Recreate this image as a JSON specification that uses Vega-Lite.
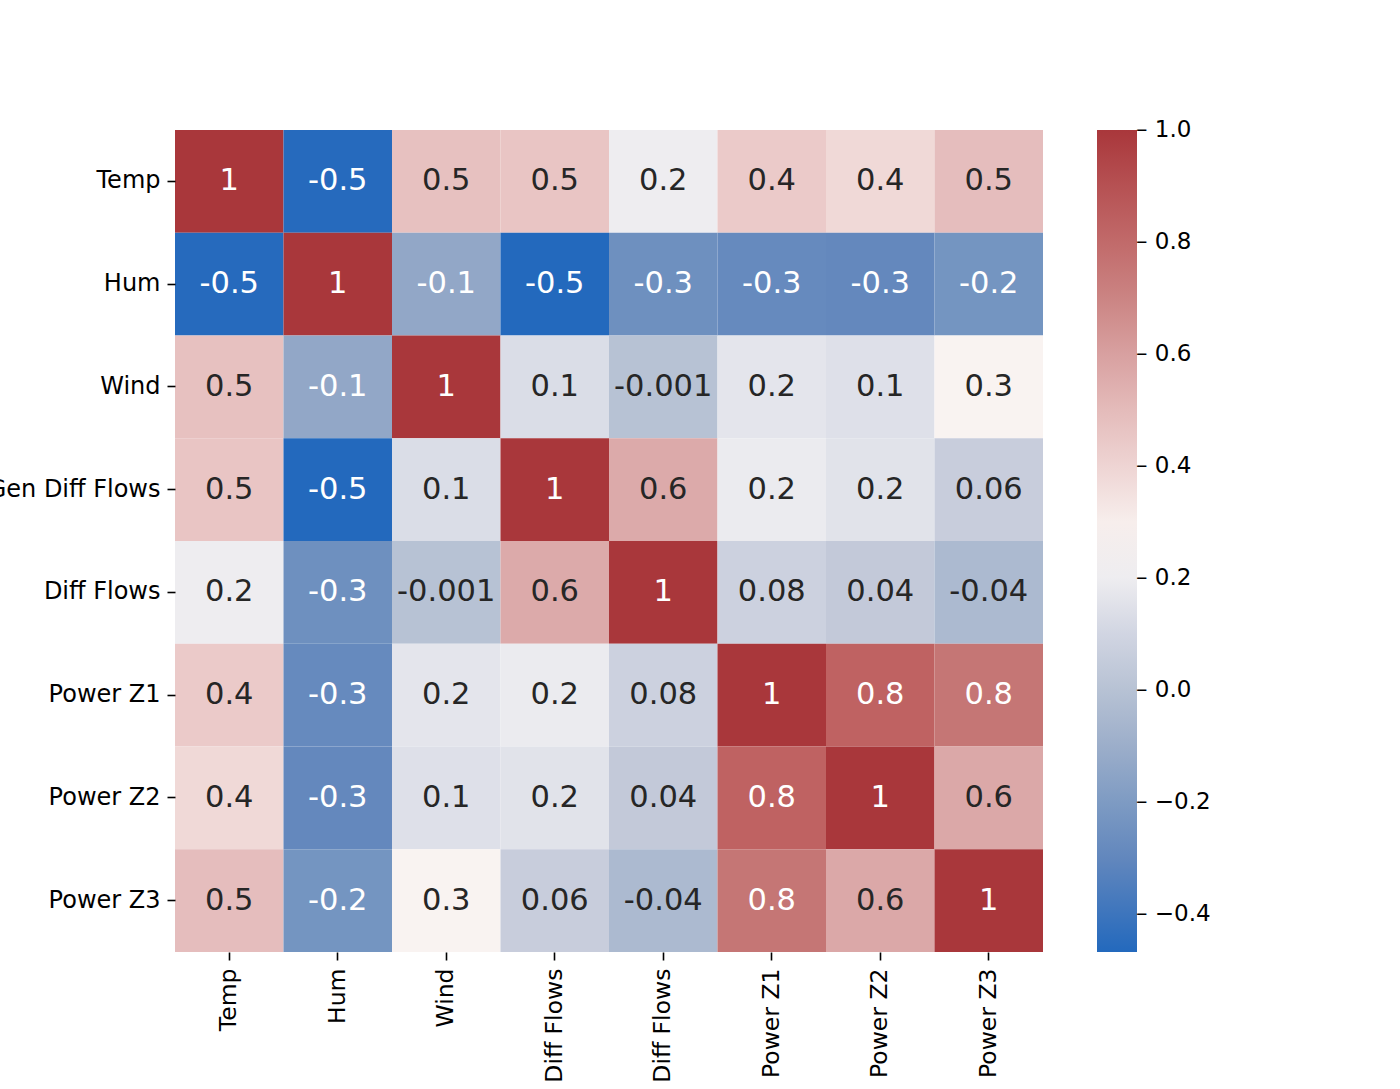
{
  "$schema": "https://vega.github.io/schema/vega-lite/v6.json",
  "autosize": {"type": "none"},
  "padding": {"left": 175, "top": 130, "right": 357, "bottom": 137},
  "width": 868,
  "height": 822,
  "background": "white",
  "config": {"view": {"stroke": null}, "font": "DejaVu Sans"},
  "data": {
    "values": [
      {"row": "Temp", "col": "Temp", "r": 1.0, "label": "1"},
      {"row": "Temp", "col": "Hum", "r": -0.46, "label": "-0.5"},
      {"row": "Temp", "col": "Wind", "r": 0.477, "label": "0.5"},
      {"row": "Temp", "col": "Gen Diff Flows", "r": 0.46, "label": "0.5"},
      {"row": "Temp", "col": "Diff Flows", "r": 0.197, "label": "0.2"},
      {"row": "Temp", "col": "Power Z1", "r": 0.44, "label": "0.4"},
      {"row": "Temp", "col": "Power Z2", "r": 0.382, "label": "0.4"},
      {"row": "Temp", "col": "Power Z3", "r": 0.489, "label": "0.5"},
      {"row": "Hum", "col": "Temp", "r": -0.46, "label": "-0.5"},
      {"row": "Hum", "col": "Hum", "r": 1.0, "label": "1"},
      {"row": "Hum", "col": "Wind", "r": -0.136, "label": "-0.1"},
      {"row": "Hum", "col": "Gen Diff Flows", "r": -0.468, "label": "-0.5"},
      {"row": "Hum", "col": "Diff Flows", "r": -0.257, "label": "-0.3"},
      {"row": "Hum", "col": "Power Z1", "r": -0.287, "label": "-0.3"},
      {"row": "Hum", "col": "Power Z2", "r": -0.295, "label": "-0.3"},
      {"row": "Hum", "col": "Power Z3", "r": -0.233, "label": "-0.2"},
      {"row": "Wind", "col": "Temp", "r": 0.477, "label": "0.5"},
      {"row": "Wind", "col": "Hum", "r": -0.136, "label": "-0.1"},
      {"row": "Wind", "col": "Wind", "r": 1.0, "label": "1"},
      {"row": "Wind", "col": "Gen Diff Flows", "r": 0.134, "label": "0.1"},
      {"row": "Wind", "col": "Diff Flows", "r": -0.001, "label": "-0.001"},
      {"row": "Wind", "col": "Power Z1", "r": 0.167, "label": "0.2"},
      {"row": "Wind", "col": "Power Z2", "r": 0.146, "label": "0.1"},
      {"row": "Wind", "col": "Power Z3", "r": 0.279, "label": "0.3"},
      {"row": "Gen Diff Flows", "col": "Temp", "r": 0.46, "label": "0.5"},
      {"row": "Gen Diff Flows", "col": "Hum", "r": -0.468, "label": "-0.5"},
      {"row": "Gen Diff Flows", "col": "Wind", "r": 0.134, "label": "0.1"},
      {"row": "Gen Diff Flows", "col": "Gen Diff Flows", "r": 1.0, "label": "1"},
      {"row": "Gen Diff Flows", "col": "Diff Flows", "r": 0.565, "label": "0.6"},
      {"row": "Gen Diff Flows", "col": "Power Z1", "r": 0.188, "label": "0.2"},
      {"row": "Gen Diff Flows", "col": "Power Z2", "r": 0.157, "label": "0.2"},
      {"row": "Gen Diff Flows", "col": "Power Z3", "r": 0.063, "label": "0.06"},
      {"row": "Diff Flows", "col": "Temp", "r": 0.197, "label": "0.2"},
      {"row": "Diff Flows", "col": "Hum", "r": -0.257, "label": "-0.3"},
      {"row": "Diff Flows", "col": "Wind", "r": -0.001, "label": "-0.001"},
      {"row": "Diff Flows", "col": "Gen Diff Flows", "r": 0.565, "label": "0.6"},
      {"row": "Diff Flows", "col": "Diff Flows", "r": 1.0, "label": "1"},
      {"row": "Diff Flows", "col": "Power Z1", "r": 0.08, "label": "0.08"},
      {"row": "Diff Flows", "col": "Power Z2", "r": 0.045, "label": "0.04"},
      {"row": "Diff Flows", "col": "Power Z3", "r": -0.039, "label": "-0.04"},
      {"row": "Power Z1", "col": "Temp", "r": 0.44, "label": "0.4"},
      {"row": "Power Z1", "col": "Hum", "r": -0.287, "label": "-0.3"},
      {"row": "Power Z1", "col": "Wind", "r": 0.167, "label": "0.2"},
      {"row": "Power Z1", "col": "Gen Diff Flows", "r": 0.188, "label": "0.2"},
      {"row": "Power Z1", "col": "Diff Flows", "r": 0.08, "label": "0.08"},
      {"row": "Power Z1", "col": "Power Z1", "r": 1.0, "label": "1"},
      {"row": "Power Z1", "col": "Power Z2", "r": 0.835, "label": "0.8"},
      {"row": "Power Z1", "col": "Power Z3", "r": 0.75, "label": "0.8"},
      {"row": "Power Z2", "col": "Temp", "r": 0.382, "label": "0.4"},
      {"row": "Power Z2", "col": "Hum", "r": -0.295, "label": "-0.3"},
      {"row": "Power Z2", "col": "Wind", "r": 0.146, "label": "0.1"},
      {"row": "Power Z2", "col": "Gen Diff Flows", "r": 0.157, "label": "0.2"},
      {"row": "Power Z2", "col": "Diff Flows", "r": 0.045, "label": "0.04"},
      {"row": "Power Z2", "col": "Power Z1", "r": 0.835, "label": "0.8"},
      {"row": "Power Z2", "col": "Power Z2", "r": 1.0, "label": "1"},
      {"row": "Power Z2", "col": "Power Z3", "r": 0.571, "label": "0.6"},
      {"row": "Power Z3", "col": "Temp", "r": 0.489, "label": "0.5"},
      {"row": "Power Z3", "col": "Hum", "r": -0.233, "label": "-0.2"},
      {"row": "Power Z3", "col": "Wind", "r": 0.279, "label": "0.3"},
      {"row": "Power Z3", "col": "Gen Diff Flows", "r": 0.063, "label": "0.06"},
      {"row": "Power Z3", "col": "Diff Flows", "r": -0.039, "label": "-0.04"},
      {"row": "Power Z3", "col": "Power Z1", "r": 0.75, "label": "0.8"},
      {"row": "Power Z3", "col": "Power Z2", "r": 0.571, "label": "0.6"},
      {"row": "Power Z3", "col": "Power Z3", "r": 1.0, "label": "1"}
    ]
  },
  "encoding": {
    "x": {
      "field": "col",
      "type": "nominal",
      "sort": ["Temp", "Hum", "Wind", "Gen Diff Flows", "Diff Flows", "Power Z1", "Power Z2", "Power Z3"],
      "scale": {"paddingInner": 0, "paddingOuter": 0},
      "axis": {
        "title": null,
        "domain": false,
        "labelAngle": 270,
        "labelFont": "DejaVu Sans",
        "labelFontSize": 23.5,
        "labelColor": "#000000",
        "labelPadding": 8,
        "labelLimit": 400,
        "tickColor": "#000000",
        "tickSize": 8,
        "tickWidth": 1.6
      }
    },
    "y": {
      "field": "row",
      "type": "nominal",
      "sort": ["Temp", "Hum", "Wind", "Gen Diff Flows", "Diff Flows", "Power Z1", "Power Z2", "Power Z3"],
      "scale": {"paddingInner": 0, "paddingOuter": 0},
      "axis": {
        "title": null,
        "domain": false,
        "labelFont": "DejaVu Sans",
        "labelFontSize": 24,
        "labelColor": "#000000",
        "labelPadding": 7,
        "labelLimit": 400,
        "tickColor": "#000000",
        "tickSize": 8,
        "tickWidth": 1.6
      }
    }
  },
  "layer": [
    {
      "mark": {"type": "rect"},
      "encoding": {
        "color": {
          "field": "r",
          "type": "quantitative",
          "scale": {
            "domain": [-0.468, -0.295, -0.233, -0.136, 0, 0.045, 0.134, 0.197, 0.279, 0.44, 0.565, 0.75, 0.835, 1.0],
            "range": ["#2369bd", "#6488bd", "#7495c1", "#92a7c7", "#b7c2d4", "#c3c9d9", "#dadde7", "#eeedf0", "#f9f3f1", "#ebcac9", "#dcaaaa", "#c57675", "#bf6262", "#a9373b"],
            "interpolate": "rgb"
          },
          "legend": {
            "title": null,
            "orient": "none",
            "legendX": 922,
            "legendY": 0,
            "direction": "vertical",
            "gradientLength": 822,
            "gradientThickness": 40,
            "gradientStrokeWidth": 0,
            "values": [-0.4, -0.2, 0, 0.2, 0.4, 0.6, 0.8, 1.0],
            "labelExpr": "'– ' + format(datum.value, '.1f')",
            "labelFont": "DejaVu Sans",
            "labelFontSize": 23,
            "labelColor": "#000000",
            "labelOffset": -1,
            "labelOverlap": false,
            "padding": 0,
            "labelBaseline": "middle",
            "encode": {
              "labels": {
                "update": {"baseline": {"value": "middle"}}
              }
            }
          }
        }
      }
    },
    {
      "mark": {"type": "text", "font": "DejaVu Sans", "fontSize": 30.5},
      "encoding": {
        "text": {"field": "label", "type": "nominal"},
        "color": {
          "condition": {"test": "datum.r >= 0.7 || datum.r <= -0.13", "value": "#ffffff"},
          "value": "#262626"
        }
      }
    }
  ]
}
